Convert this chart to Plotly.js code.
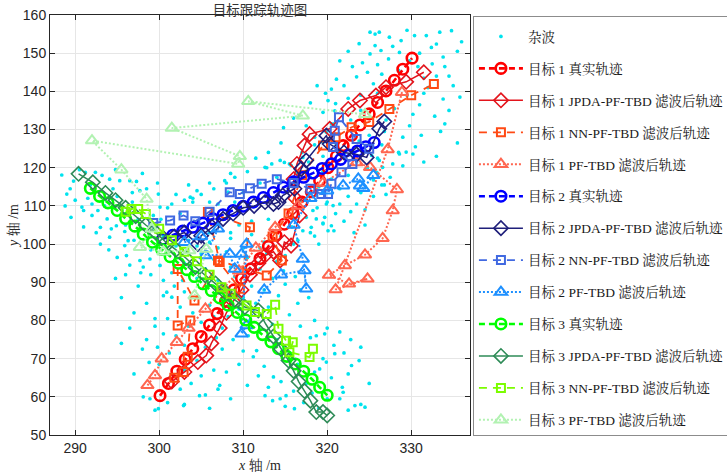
<!DOCTYPE html>
<html>
<head>
<meta charset="utf-8">
<script src="https://cdn.plot.ly/plotly-3.0.1.min.js"></script>
<style>html,body{margin:0;padding:0;background:#fff;}#chart{width:727px;height:476px;}</style>
</head>
<body>
<div id="chart"></div>
<script>
// ---------------- data ----------------
const legendNames = ['杂波',
  '目标 1 真实轨迹','目标 1 JPDA-PF-TBD 滤波后轨迹','目标 1 NN-PF-TBD 滤波后轨迹','目标 1 PF-TBD 滤波后轨迹',
  '目标 2 真实轨迹','目标 2 JPDA-PF-TBD 滤波后轨迹','目标 2 NN-PF-TBD 滤波后轨迹','目标 2 PF-TBD 滤波后轨迹',
  '目标 3 真实轨迹','目标 3 JPDA-PF-TBD 滤波后轨迹','目标 3 NN-PF-TBD 滤波后轨迹','目标 3 PF-TBD 滤波后轨迹'];

const xTicks = [290, 300, 310, 320, 330];
const yTicks = [50, 60, 70, 80, 90, 100, 110, 120, 130, 140, 150, 160];

// clutter points [x, y]
const clutterPts = [
 [325.1,155.5],[325.7,155.0],[326.2,155.5],[327.4,154.2],[328.8,153.3],[330.4,154.6],[331.8,154.6],[333.4,155.5],[334.8,155.9],[325.7,152.0],
 [326.4,150.7],[328.6,150.2],[333.0,152.4],[332.4,151.5],[325.1,149.8],[324.2,147.5],[326.0,147.0],[327.3,148.5],[331.0,150.0],[333.8,149.0],
 [335.5,150.5],[334.0,146.5],[332.5,147.2],[324.8,145.0],[323.5,143.8],[322.0,141.5],[326.5,144.5],[330.8,146.5],[333.0,144.0],[335.0,141.5],
 [333.8,138.0],[331.5,139.5],[324.0,139.0],[322.5,138.2],[321.0,136.8],[319.8,139.5],[318.0,137.0],[319.5,134.5],[325.5,142.0],[329.5,139.0],
 [331.0,136.5],[332.8,133.5],[334.5,135.0],[328.0,135.5],[327.0,132.5],[329.8,131.0],[331.2,128.5],[333.5,129.5],[325.0,128.5],[323.8,127.0],
 [322.8,132.5],[320.8,131.5],[317.5,131.0],[316.0,133.0],[314.8,130.5],[318.5,128.0],[326.5,126.0],[328.5,124.0],[330.5,125.5],[333.0,123.0],
 [335.5,126.5],[331.5,121.5],[329.0,120.5],[327.5,117.5],[326.8,115.5],[327.0,113.0],
 [322.5,150.5],[323.8,152.5],[327.8,151.8],[329.8,148.0],[331.5,143.5],[334.5,144.0],[335.8,138.5],[330.2,134.0],[326.0,139.5],[323.0,146.5],
 [321.5,148.0],[328.5,145.5],[332.0,141.0],[334.0,131.5],[329.0,128.0],[326.8,129.5],[336.0,153.0],[329.5,156.0],[324.0,135.0],[318.8,141.5],
 [313.0,124.0],[311.5,122.5],[314.5,126.5],[312.8,120.0],[310.5,119.0],[309.0,117.5],[308.0,116.0],[306.5,114.5],[305.0,113.0],[304.0,112.0],
 [303.0,111.5],[308.5,118.5],[302.0,113.0],[303.5,115.5],[310.0,113.5],[312.0,116.0],[314.0,117.5],[315.5,121.0],[317.0,124.0],[318.5,126.0],
 [316.5,118.5],[318.0,117.5],[319.5,119.0],[320.5,117.0],[321.5,114.5],[322.5,112.5],[323.5,110.5],[324.5,109.0],[320.0,111.0],[318.8,109.5],
 [321.0,108.0],[317.5,107.0],[315.8,104.5],[314.5,102.0],[313.0,106.5],[311.0,106.0],[309.0,111.0],[307.0,110.5],[306.0,103.0],[308.5,101.5],
 [310.5,101.0],[312.5,100.5],[316.5,101.0],[318.0,103.0],[319.5,105.5],[320.8,103.5],[322.0,106.0],[325.5,112.5],[326.5,115.5],[324.0,113.5],
 [322.5,118.0],[323.5,121.5],[324.8,120.0],[326.0,122.5],[321.0,126.5],[319.5,123.0],[317.8,121.5],[302.5,108.0],[301.0,109.5],[304.5,114.0],
 [306.0,116.0],[300.2,106.5],
 [321.5,110.5],[322.8,108.5],[324.5,105.0],[323.2,103.0],[319.0,100.0],[316.8,111.5],[325.5,116.8],[327.8,121.0],[322.0,123.5],[319.0,115.0],
 [288.4,118.1],[289.4,114.5],[289.0,113.1],[291.2,118.8],[292.4,118.8],[294.1,117.0],[295.3,116.6],[296.5,116.6],[297.3,116.4],[290.8,109.7],
 [291.0,108.8],[292.0,107.5],[292.7,108.8],[293.0,104.4],[293.8,106.6],[294.3,104.0],[294.9,104.8],[295.9,103.3],[294.1,101.8],[296.3,100.9],
 [295.9,99.6],[297.7,114.0],[298.5,114.5],[299.3,107.5],[296.1,97.0],[297.7,95.7],[298.9,96.1],[298.1,94.0],[300.1,94.4],[300.9,87.4],
 [300.5,86.5],[301.5,86.1],
 [290.0,111.5],[291.5,112.0],[293.5,110.0],[295.0,112.5],[296.8,111.0],[297.5,106.5],[296.0,105.0],[292.5,103.0],[294.0,98.5],[297.0,101.0],
 [299.5,104.0],[300.5,102.0],[289.5,107.0],[291.8,115.5],[293.2,118.0],[298.0,118.5],[299.8,116.0],[296.0,92.0],[297.5,89.0],[298.5,84.5],
 [295.5,86.0],[299.5,80.5],[297.0,82.0],[294.8,91.0],
 [289.8,116.5],[290.5,119.5],[292.0,110.5],[294.5,114.5],[295.5,108.0],[296.8,113.5],[293.0,100.0],[295.0,96.5],[291.0,104.5],[298.5,101.5],
 [299.0,98.5],[288.8,110.0],[294.8,119.5],[296.5,94.5],[297.8,92.5],
 [299.0,92.0],[300.5,90.5],[301.8,89.0],[303.0,87.5],[305.5,93.5],[306.5,96.0],[308.0,98.0],[310.5,96.5],[312.0,93.5],[313.5,91.0],
 [315.0,89.5],[316.2,91.5],[314.2,86.5],[312.5,88.0],[310.0,86.0],[311.5,84.5],[313.0,83.5],[309.0,91.5],[307.0,90.5],[306.0,84.0],
 [304.0,82.0],[302.5,83.5],[301.0,80.5],[299.5,78.5],[298.5,75.0],[299.8,73.0],[301.2,71.5],[300.0,68.5],[298.8,69.0],[302.0,76.0],
 [303.5,78.5],[305.0,79.5],[306.8,75.5],[305.5,73.0],[307.5,72.5],[308.8,75.0],[310.0,72.0],[311.2,70.5],[309.5,68.5],[308.0,66.5],
 [306.5,67.0],[305.0,65.5],[303.8,63.5],[302.5,62.0],[301.0,58.5],[299.5,56.5],[303.0,58.0],[305.5,60.5],[307.0,62.0],[308.5,59.5],
 [310.5,63.0],[311.8,65.5],[313.0,62.5],[314.5,64.0],[316.0,61.5],[317.2,58.5],[315.0,57.5],[313.5,59.0],[318.5,66.5],[320.5,65.0],
 [321.8,62.5],[322.5,66.0],[323.8,69.5],[322.0,71.5],[320.8,73.5],[319.5,70.0],[318.0,75.5],[316.8,78.5],[318.5,80.0],[320.0,78.0],
 [321.5,77.0],[322.8,75.0],[324.0,73.0],[325.0,63.5],[324.0,58.0],[322.5,56.5],[321.5,59.5],[319.0,57.0],[317.5,63.5],[312.0,77.5],
 [313.5,79.0],[315.5,81.5],[316.5,84.5],[317.8,86.0],[314.0,75.0],[310.8,80.0],[308.2,81.0],[307.5,78.0],[304.5,69.5],[303.0,67.0],
 [311.0,89.0],[312.8,97.5],[304.5,99.5],[306.0,100.5],[310.0,99.0],[303.0,95.0],[301.5,92.5],
 [302.8,90.5],[304.5,91.0],[308.5,94.0],[311.8,95.0],[314.8,93.0],[316.8,88.0],[309.5,83.0],[306.5,81.0],[300.5,76.5],[303.0,73.5],
 [312.5,68.0],[316.5,68.5],[318.2,61.0],[320.0,59.5],[306.0,57.0],
 [310.6,76.0],[311.6,72.1],[313.6,65.2],[315.1,60.3],[316.1,56.9],[312.6,60.3],[314.4,59.5],[320.9,71.3],[322.9,68.2],[323.3,57.7],
 [324.5,57.3],[321.9,61.2],[319.1,67.3],[319.9,69.1],[319.7,76.5],[318.7,76.0],
 [298.9,59.5],[299.9,56.9],[298.1,60.0],[302.9,57.7],[304.8,60.3],[307.2,63.0],
 [318.3,108.8],[318.7,106.6],[319.7,107.0],[319.5,105.3],[318.1,104.4],[320.5,104.8],[320.1,103.5],[318.5,102.1],[317.1,103.5],[319.9,110.5],
 [320.7,110.1],[326.0,118.4],[326.6,120.1],[326.2,121.9],[328.6,123.6],[329.4,124.1],[330.2,123.6],[325.3,123.2],[325.9,118.8],
 [299.9,113.1],[300.1,109.7],[301.5,110.5],[303.7,112.3],[304.0,111.0],[306.0,111.0],[307.8,116.6],[308.2,113.6],[312.6,120.1],[313.4,121.0],
 [314.4,121.9],[314.9,121.4],[315.7,120.6],[317.1,122.7],[319.5,126.7],[319.9,129.3],[320.5,131.5],[320.1,137.6],[320.5,140.6],[320.9,134.9],
 [321.1,143.2],
 [296.5,78.0],[298.0,72.5],[297.0,66.0],[295.5,74.0],
 [302.0,99.5],[303.5,101.0],[305.0,97.5],[307.0,99.0],[308.5,103.0],[309.5,105.0],[311.0,102.5],[312.0,99.0],[313.5,101.5],[315.0,97.0],
 [316.0,100.0],[314.0,95.5]
];

// target 1
const t1TrueX = [300.1,301.1,302.1,303.1,304.0,305.0,306.0,306.9,307.9,308.9,309.8,310.9,312.0,313.0,313.9,314.9,315.9,317.0,318.1,319.1,320.1,321.1,321.9,322.9,323.9,325.0,326.0,327.0,328.0,329.0,330.1];
const t1TrueY = [60.3,63.5,66.7,69.8,72.6,75.8,78.8,81.8,85.0,88.0,91.0,93.5,96.2,99.4,102.3,105.2,108.0,111.0,113.7,116.6,120.0,123.0,125.8,128.5,131.2,134.1,137.1,140.1,142.9,145.8,148.7];
const t1JpdaX = [301.5,303.0,304.6,305.6,306.2,307.2,308.0,308.8,309.8,310.8,311.8,312.6,313.6,314.4,314.9,315.7,316.7,316.2,316.0,316.4,317.3,317.9,320.3,322.5,323.9,325.8,327.0,329.4,331.5];
const t1JpdaY = [64.0,66.5,69.1,70.8,74.0,78.0,82.0,85.0,88.0,92.0,95.0,97.0,98.0,95.7,100.5,99.6,107.5,112.0,117.0,121.0,125.8,128.8,130.2,135.4,137.6,138.9,141.1,142.5,145.0];
const t1NnX = [301.8,302.9,303.4,303.7,302.2,302.2,304.2,307.2,305.8,310.8,309.6,307.0,312.8,314.6,313.5,315.4,317.0,319.5,321.0,322.9,325.0,327.4,330.0,332.7];
const t1NnY = [65.0,66.5,70.5,80.0,78.7,93.5,85.2,95.3,108.4,104.4,88.3,95.7,91.8,95.7,102.0,108.0,118.0,125.8,128.0,130.6,132.0,135.4,139.0,141.9];
const t1PfX = [298.6,299.5,300.3,302.1,303.5,305.5,307.5,309.5,311.5,313.8,316.5,319.5,323.5,325.1,328.3,327.8,326.6,324.5,322.1,320.2,322.6,324.8,321.0,327.2,328.9];
const t1PfY = [63.0,65.6,70.0,74.3,78.0,83.0,88.0,93.0,99.0,104.4,110.0,116.0,121.4,120.1,114.3,108.8,101.5,97.2,94.4,91.9,89.6,90.9,88.1,124.8,139.8];

// target 2
const t2TrueX = [300.4,301.6,302.8,304.0,305.2,306.4,307.6,308.8,310.0,311.2,312.4,313.6,314.8,316.0,317.2,318.3,319.4,320.5,321.6,322.6,323.6,324.6,325.6];
const t2TrueY = [101.3,102.3,103.4,104.4,105.5,106.6,107.7,108.8,109.9,111.0,112.2,113.5,114.9,116.3,117.5,118.6,119.8,121.0,122.2,123.3,124.4,125.5,126.6];
const t2JpdaX = [300.5,301.8,303.0,304.6,305.0,306.3,307.6,308.8,310.0,311.3,312.6,313.6,314.2,314.7,316.1,316.9,317.5,319.9,320.3,322.0,323.5,324.7,326.2,326.8];
const t2JpdaY = [101.5,102.0,103.0,100.0,102.2,104.5,106.6,108.0,109.5,110.0,111.0,110.5,111.0,112.7,114.5,119.7,121.9,128.4,126.2,124.0,123.5,122.7,130.2,132.1];
const t2NnX = [299.3,301.3,302.9,304.3,306.0,308.4,309.6,310.8,312.2,314.0,316.0,318.0,319.3,320.1,320.5,321.7,323.0,320.7,320.9,321.4,323.5,325.0];
const t2NnY = [105.5,106.2,107.5,106.0,108.5,113.6,113.1,114.6,115.8,117.0,116.0,114.5,113.1,113.1,115.8,118.8,121.0,125.4,129.7,133.2,127.5,125.0];
const t2PfX = [303.0,305.0,307.0,305.5,308.4,309.0,309.8,310.4,309.8,310.4,312.5,314.5,317.3,317.5,317.1,316.0,318.0,320.0,321.9,323.7,323.9,324.3,325.5];
const t2PfY = [100.5,102.0,104.0,97.0,97.4,93.5,97.4,100.0,76.5,78.7,88.0,92.0,93.1,88.3,96.1,105.0,112.0,114.0,115.3,117.1,115.3,114.6,118.0];

// target 3
const t3TrueX = [291.8,292.9,293.9,295.0,296.0,297.1,298.1,299.2,300.3,301.3,302.3,303.3,304.2,305.2,306.2,307.2,308.2,309.3,310.3,311.3,312.3,313.3,314.2,315.2,316.2,317.2,318.2,319.1,320.0];
const t3TrueY = [114.6,112.5,110.8,108.8,106.7,104.7,102.6,100.5,98.6,96.7,95.0,93.3,91.5,89.6,87.8,85.9,84.0,82.1,80.1,78.2,76.3,74.4,72.6,70.6,68.6,66.7,64.6,62.5,60.4];
const t3JpdaX = [290.4,292.1,293.6,294.8,296.0,297.2,298.4,299.6,300.8,302.0,303.2,304.3,305.5,306.7,307.8,309.0,310.2,311.8,312.7,313.6,314.5,315.4,316.0,316.6,317.3,318.0,318.7,319.5,320.0];
const t3JpdaY = [118.4,116.2,113.4,111.5,109.5,107.3,105.0,103.0,100.5,98.5,96.3,94.0,91.8,89.7,87.5,85.4,83.5,82.6,79.0,75.8,72.5,69.5,66.8,64.0,61.5,59.0,56.0,56.0,55.1];
const t3NnX = [296.0,296.7,297.5,298.4,300.0,301.5,303.0,304.5,306.0,307.4,308.5,310.4,311.4,312.8,313.8,314.2,315.1,315.9,315.5,317.9,318.3];
const t3NnY = [108.5,109.2,109.2,107.9,104.0,101.0,98.0,95.5,92.0,88.7,87.0,83.9,82.2,81.7,84.1,77.8,74.7,74.3,71.7,70.4,72.6];
const t3PfX = [324.5,310.6,317.1,301.5,309.6,309.4,292.0,295.5,298.5,299.1,297.7,300.5,303.6,305.6,304.2];
const t3PfY = [134.0,137.4,133.6,130.4,123.0,121.0,127.1,119.5,111.8,104.0,99.2,98.0,98.3,98.7,86.5];

// ---------------- styles ----------------
const clutterColor = '#00E3EE';
const styles = [
  {c:'#FF0000', sym:'circle-open',      ms:10.5, mw:2.6, dash:'6px,4px', lw:2.6},
  {c:'#E3141C', sym:'diamond-open',     ms:11, mw:1.6, dash:'solid',   lw:1.5},
  {c:'#FF4A14', sym:'square-open',      ms:8,  mw:2.0, dash:'8px,6px', lw:1.8},
  {c:'#FF6650', sym:'triangle-up-open', ms:11, mw:2.0, dash:'2px,2px', lw:2.0},
  {c:'#0000FF', sym:'circle-open',      ms:10.5, mw:2.6, dash:'6px,4px', lw:2.6},
  {c:'#1F1F7A', sym:'diamond-open',     ms:11, mw:1.6, dash:'solid',   lw:1.5},
  {c:'#4169E1', sym:'square-open',      ms:8,  mw:2.0, dash:'8px,6px', lw:1.8},
  {c:'#1E90FF', sym:'triangle-up-open', ms:11, mw:2.0, dash:'2px,2px', lw:2.0},
  {c:'#00FF00', sym:'circle-open',      ms:10.5, mw:2.6, dash:'6px,4px', lw:2.6},
  {c:'#2E8B57', sym:'diamond-open',     ms:11, mw:1.6, dash:'solid',   lw:1.5},
  {c:'#7CFC00', sym:'square-open',      ms:8,  mw:2.0, dash:'8px,6px', lw:1.8},
  {c:'#B2F2B2', sym:'triangle-up-open', ms:11, mw:2.0, dash:'2px,2px', lw:2.0}
];
const series = [
  [t1TrueX,t1TrueY],[t1JpdaX,t1JpdaY],[t1NnX,t1NnY],[t1PfX,t1PfY],
  [t2TrueX,t2TrueY],[t2JpdaX,t2JpdaY],[t2NnX,t2NnY],[t2PfX,t2PfY],
  [t3TrueX,t3TrueY],[t3JpdaX,t3JpdaY],[t3NnX,t3NnY],[t3PfX,t3PfY]
];

const traces = [{
  type:'scatter', mode:'markers', name: legendNames[0], legendgroup:'g0',
  x: clutterPts.map(p=>p[0]), y: clutterPts.map(p=>p[1]),
  marker:{color:clutterColor, size:3.7}
}];
series.forEach((s,i)=>{
  const st = styles[i];
  traces.push({
    type:'scatter', mode:'lines+markers', name: legendNames[i+1], legendgroup:'g'+(i+1),
    x:s[0], y:s[1],
    line:{color:st.c, width:st.lw, dash:st.dash},
    marker:{symbol:st.sym, size:st.ms, color:st.c, line:{color:st.c, width:st.mw}}
  });
});

const serifCJK = 'Liberation Serif, Noto Serif CJK SC, Noto Sans CJK SC, serif';
const axisCommon = {
  showline:true, linecolor:'#262626', linewidth:1, mirror:'ticks',
  ticks:'inside', ticklen:5, tickcolor:'#262626', tickwidth:1,
  showgrid:true, gridcolor:'#E6E6E6', gridwidth:1, zeroline:false,
  tickfont:{family:'Liberation Sans, Arial, sans-serif', size:14, color:'#262626'}
};

const layout = {
  width:727, height:476,
  margin:{l:50, r:257, t:15, b:41, autoexpand:false},
  paper_bgcolor:'#FFFFFF', plot_bgcolor:'#FFFFFF',
  title:{text:'目标跟踪轨迹图', font:{family:'Noto Sans CJK SC, sans-serif', size:13.5, color:'#333'},
         x:0.5, xref:'paper', y:1, yref:'paper', yanchor:'bottom', pad:{b:0}},
  xaxis: Object.assign({}, axisCommon, {range:[287,337], tickvals:xTicks, ticktext:xTicks.map(String),
    title:{text:'<i>x</i> 轴 /m', font:{family:serifCJK, size:14, color:'#262626'}, standoff:5}}),
  yaxis: Object.assign({}, axisCommon, {range:[50,160], tickvals:yTicks, ticktext:yTicks.map(String),
    title:{text:'<i>y</i> 轴 /m', font:{family:serifCJK, size:14, color:'#262626'}, standoff:0}}),
  showlegend:true,
  legend:{x:1.007, xanchor:'left', y:0.997, yanchor:'top',
    bgcolor:'#FFFFFF', bordercolor:'#8C8C8C', borderwidth:1,
    font:{family:serifCJK, size:13.5, color:'#1A1A1A'},
    title:{text:'\u200a', font:{size:3}, side:'top'},
    traceorder:'grouped', tracegroupgap:11.4, itemwidth:44}
};

Plotly.newPlot('chart', traces, layout, {displayModeBar:false, staticPlot:true});
</script>
</body>
</html>
